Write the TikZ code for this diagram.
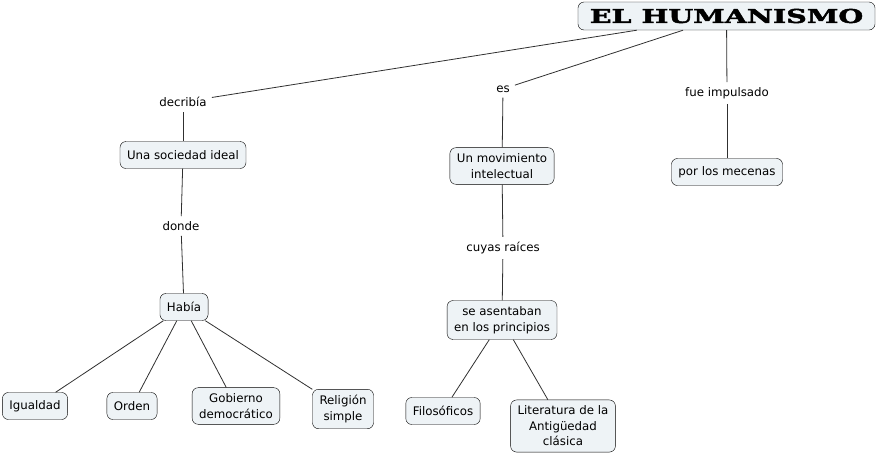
\documentclass[tikz,border=0pt]{standalone}
\usepackage{fontspec}
\setmainfont{DejaVu Sans}
\newfontfamily\titlefont[FakeStretch=1.5,FakeBold=2.5]{DejaVu Serif}
\usepackage{tikz}
\usetikzlibrary{positioning}
\definecolor{boxfill}{HTML}{EEF3F6}
\definecolor{edgegray}{HTML}{303030}

\begin{document}
\begin{tikzpicture}[x=1pt, y=-1pt,
    every node/.style={font=\fontsize{11.8}{15.5}\selectfont},
    concept/.style={draw=black, fill=boxfill, rounded corners=6pt, align=center, inner xsep=7pt, inner ysep=6pt, minimum height=27pt},
    linkword/.style={align=center, inner sep=5pt},
    edge/.style={draw=edgegray, line width=0.8pt}]
    \useasboundingbox (0,0) rectangle (878,456);
    % title
    \node[concept, minimum width=297pt, minimum height=28pt, inner ysep=2pt, font=\titlefont\bfseries\fontsize{19}{20}\selectfont] (T) at (726.5,16) {EL HUMANISMO};
    % linking phrases
    \node[linkword] (L1) at (183,102) {decribía};
    \node[linkword] (L2) at (503,89)  {es};
    \node[linkword] (L3) at (727,93)  {fue impulsado};
    \node[linkword] (L4) at (181,226) {donde};
    \node[linkword] (L5) at (503,248) {cuyas raíces};
    % concepts
    \node[concept] (A) at (183,155) {Una sociedad ideal};
    \node[concept] (B) at (502,166) {Un movimiento\\intelectual};
    \node[concept] (C) at (727,172) {por los mecenas};
    \node[concept] (D) at (184,307) {Había};
    \node[concept] (E) at (502,320) {se asentaban\\en los principios};
    \node[concept] (D1) at (35,406)  {Igualdad};
    \node[concept] (D2) at (132,406) {Orden};
    \node[concept] (D3) at (236,406) {Gobierno\\democrático};
    \node[concept] (D4) at (343,409) {Religión\\simple};
    \node[concept] (E1) at (443,411) {Filosóficos};
    \node[concept] (E2) at (563,426) {Literatura de la\\Antigüedad\\clásica};
    % connectors
    \foreach \i/\j in {T/L1,T/L2,T/L3,L1/A,A/L4,L4/D,L2/B,B/L5,L5/E,L3/C,D/D1,D/D2,D/D3,D/D4,E/E1,E/E2}
        \draw[edge] (\i) -- (\j);
\end{tikzpicture}
\end{document}
